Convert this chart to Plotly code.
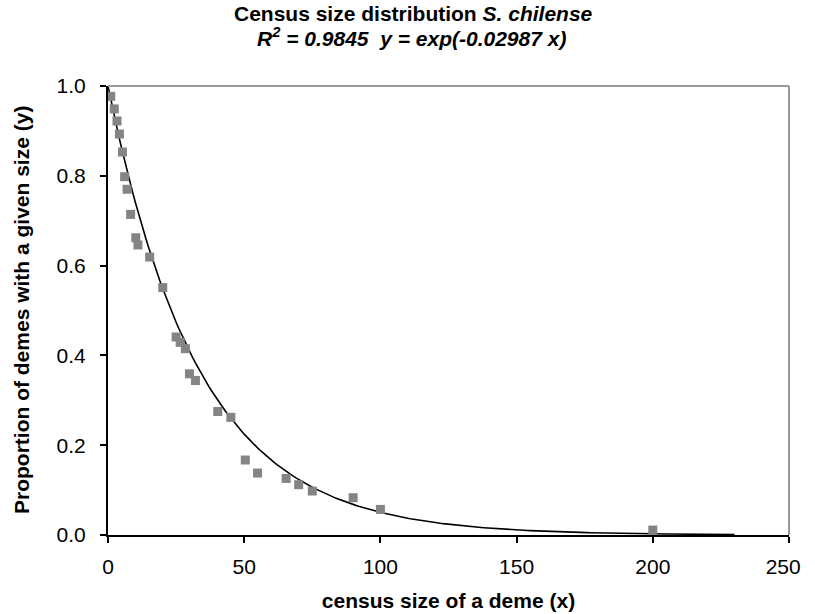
import numpy as np
import plotly.graph_objects as go

# Observed data (census size of a deme, proportion of demes with a given size)
census_size = [1, 2.3, 3.3, 4.2, 5.3, 6.1, 7.0, 8.3, 10.2, 11.0, 15.3, 20.1,
               25.0, 26.5, 28.4, 29.9, 32.1, 40.3, 45.1, 50.4, 54.9, 65.4,
               70.0, 75.0, 90.0, 100.0, 200.0]
proportion = [0.977, 0.949, 0.922, 0.893, 0.853, 0.798, 0.770, 0.714, 0.662, 0.646,
              0.619, 0.551, 0.441, 0.429, 0.415, 0.359, 0.344, 0.275, 0.262, 0.167,
              0.138, 0.126, 0.112, 0.098, 0.083, 0.057, 0.011]

# Fitted model stated in the title: y = exp(-K x)
K_FIT = 0.02987
R2 = 0.9845
fit_x = np.linspace(0, 230, 231)
fit_y = np.exp(-K_FIT * fit_x)

x_ticks = [0, 50, 100, 150, 200, 250]
x_tick_labels = ["0", "50", "100", "150", "200", "250"]
y_ticks = [0.0, 0.2, 0.4, 0.6, 0.8, 1.0]
y_tick_labels = ["0.0", "0.2", "0.4", "0.6", "0.8", "1.0"]

FONT = "Liberation Sans, Arial, sans-serif"

# last x label is pulled slightly inside the plot edge as in the reference
x_tick_text = x_tick_labels[:-1] + [x_tick_labels[-1] + "\u00a0" * 2]

fig = go.Figure()
fig.add_trace(go.Scatter(
    x=fit_x, y=fit_y, mode="lines",
    line=dict(color="black", width=1.6), hoverinfo="skip", showlegend=False))
fig.add_trace(go.Scatter(
    x=census_size, y=proportion, mode="markers",
    marker=dict(symbol="square", size=9, color="#848484", line=dict(width=0)),
    showlegend=False))

title_line1 = "<b>Census size distribution <i>S. chilense</i></b>"
title_line2 = f"<b><i>R<sup>2</sup> = {R2}  y = exp(-{K_FIT} x)</i></b>"

fig.update_layout(
    width=815, height=614,
    margin=dict(l=108, r=26, t=86, b=79),
    paper_bgcolor="white", plot_bgcolor="white",
    font=dict(family=FONT, color="black"),
    annotations=[
        dict(text=title_line1, xref="paper", yref="paper", x=0.448, y=1.162,
             xanchor="center", yanchor="middle", showarrow=False,
             font=dict(size=21, family=FONT)),
        dict(text=title_line2, xref="paper", yref="paper", x=0.445, y=1.110,
             xanchor="center", yanchor="middle", showarrow=False,
             font=dict(size=21, family=FONT)),
        dict(text="<b>Proportion of demes with a given size (y)</b>",
             xref="paper", yref="paper", x=-0.127, y=0.5, textangle=-90,
             xanchor="center", yanchor="middle", showarrow=False,
             font=dict(size=21, family=FONT)),
    ],
    xaxis=dict(
        range=[0, 250], tickvals=x_ticks, ticktext=x_tick_text,
        showgrid=False, zeroline=False, automargin=False,
        ticklabeloverflow="allow",
        showline=True, linecolor="black", linewidth=2,
        ticks="outside", ticklen=6, tickwidth=1.5, tickcolor="black",
        tickfont=dict(size=21), ticklabelstandoff=6,
        title=dict(text="<b>census size of a deme (x)</b>", font=dict(size=21), standoff=16)),
    yaxis=dict(
        range=[0, 1.0], tickvals=y_ticks, ticktext=y_tick_labels,
        showgrid=False, zeroline=False, automargin=False,
        showline=True, linecolor="black", linewidth=2,
        ticks="outside", ticklen=6, tickwidth=1.5, tickcolor="black",
        tickfont=dict(size=21), ticklabelstandoff=10),
    shapes=[
        dict(type="line", xref="x domain", yref="y domain", x0=0, x1=1, y0=1, y1=1,
             line=dict(color="#999999", width=2)),
        dict(type="line", xref="x domain", yref="y domain", x0=1, x1=1, y0=0, y1=1,
             line=dict(color="#999999", width=2)),
    ],
)

fig.write_html("out.html")
